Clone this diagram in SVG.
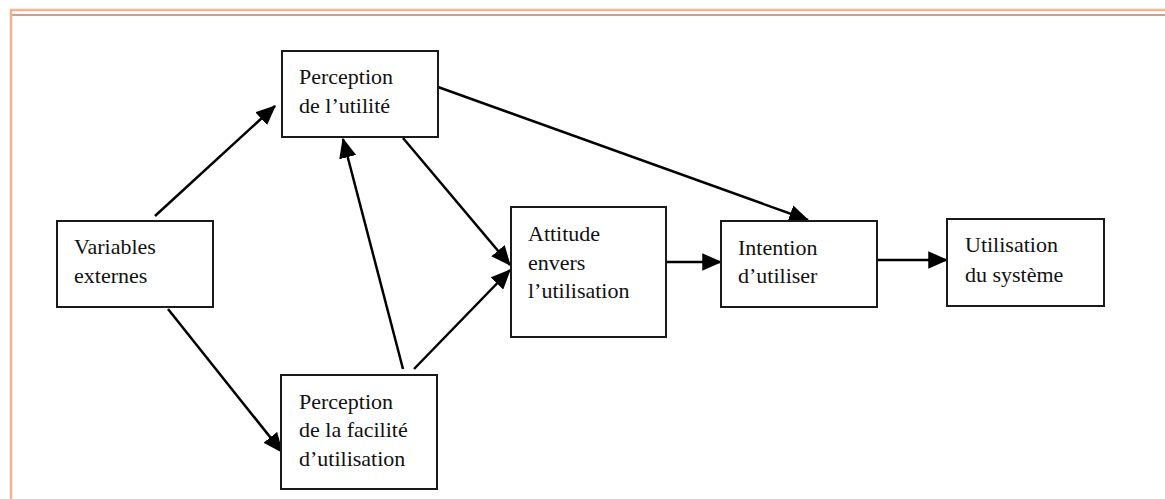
<svg xmlns="http://www.w3.org/2000/svg" width="1165" height="499" viewBox="0 0 1165 499">
  <style>
    .box { fill: #ffffff; stroke: #1a1a1a; stroke-width: 2; }
    .lbl { font-family: "Liberation Serif", "Times New Roman", serif; font-size: 22px; fill: #111111; }
    .link { stroke: #000000; stroke-width: 2.5; fill: none; marker-end: url(#head); }
  </style>
  <defs>
    <marker id="head" markerWidth="8" markerHeight="7" refX="7.5" refY="3.5" orient="auto" markerUnits="strokeWidth">
      <path d="M0,0 L8,3.5 L0,7 Z" fill="#000000"/>
    </marker>
  </defs>

  <rect width="1165" height="499" fill="#ffffff"/>

  <!-- page frame -->
  <g id="frame">
    <line x1="10" y1="10" x2="1165" y2="10" stroke="#f7b48e" stroke-width="2.5"/>
    <line x1="12" y1="15" x2="1165" y2="15" stroke="#c9a08c" stroke-width="2"/>
    <line x1="11" y1="10" x2="11" y2="499" stroke="#f0b28e" stroke-width="2.5"/>
  </g>

  <!-- connectors -->
  <g id="connectors">
    <line class="link" x1="155" y1="216" x2="275" y2="106"/>
    <line class="link" x1="168" y1="309" x2="282" y2="452"/>
    <line class="link" x1="403" y1="138" x2="510" y2="265"/>
    <line class="link" x1="414" y1="369" x2="510" y2="270"/>
    <line class="link" x1="403" y1="369" x2="343" y2="139"/>
    <line class="link" x1="438" y1="87" x2="808" y2="220"/>
    <line class="link" x1="666" y1="262" x2="721" y2="262"/>
    <line class="link" x1="877" y1="260" x2="947" y2="260"/>
  </g>

  <g id="variables-externes">
    <rect class="box" x="57" y="221" width="156" height="86"/>
    <text class="lbl" x="74" y="254">Variables</text>
    <text class="lbl" x="74" y="283">externes</text>
  </g>

  <g id="perception-utilite">
    <rect class="box" x="282" y="51" width="156" height="86"/>
    <text class="lbl" x="299" y="84">Perception</text>
    <text class="lbl" x="299" y="113">de l’utilité</text>
  </g>

  <g id="perception-facilite">
    <rect class="box" x="281" y="375" width="156" height="114"/>
    <text class="lbl" x="299" y="409">Perception</text>
    <text class="lbl" x="299" y="437">de la facilité</text>
    <text class="lbl" x="299" y="466">d’utilisation</text>
  </g>

  <g id="attitude">
    <rect class="box" x="511" y="207" width="155" height="130"/>
    <text class="lbl" x="528" y="241">Attitude</text>
    <text class="lbl" x="528" y="270">envers</text>
    <text class="lbl" x="528" y="298">l’utilisation</text>
  </g>

  <g id="intention">
    <rect class="box" x="721" y="221" width="156" height="86"/>
    <text class="lbl" x="738" y="255">Intention</text>
    <text class="lbl" x="738" y="283">d’utiliser</text>
  </g>

  <g id="utilisation-systeme">
    <rect class="box" x="947" y="219" width="157" height="87"/>
    <text class="lbl" x="965" y="252">Utilisation</text>
    <text class="lbl" x="965" y="282">du système</text>
  </g>
</svg>
